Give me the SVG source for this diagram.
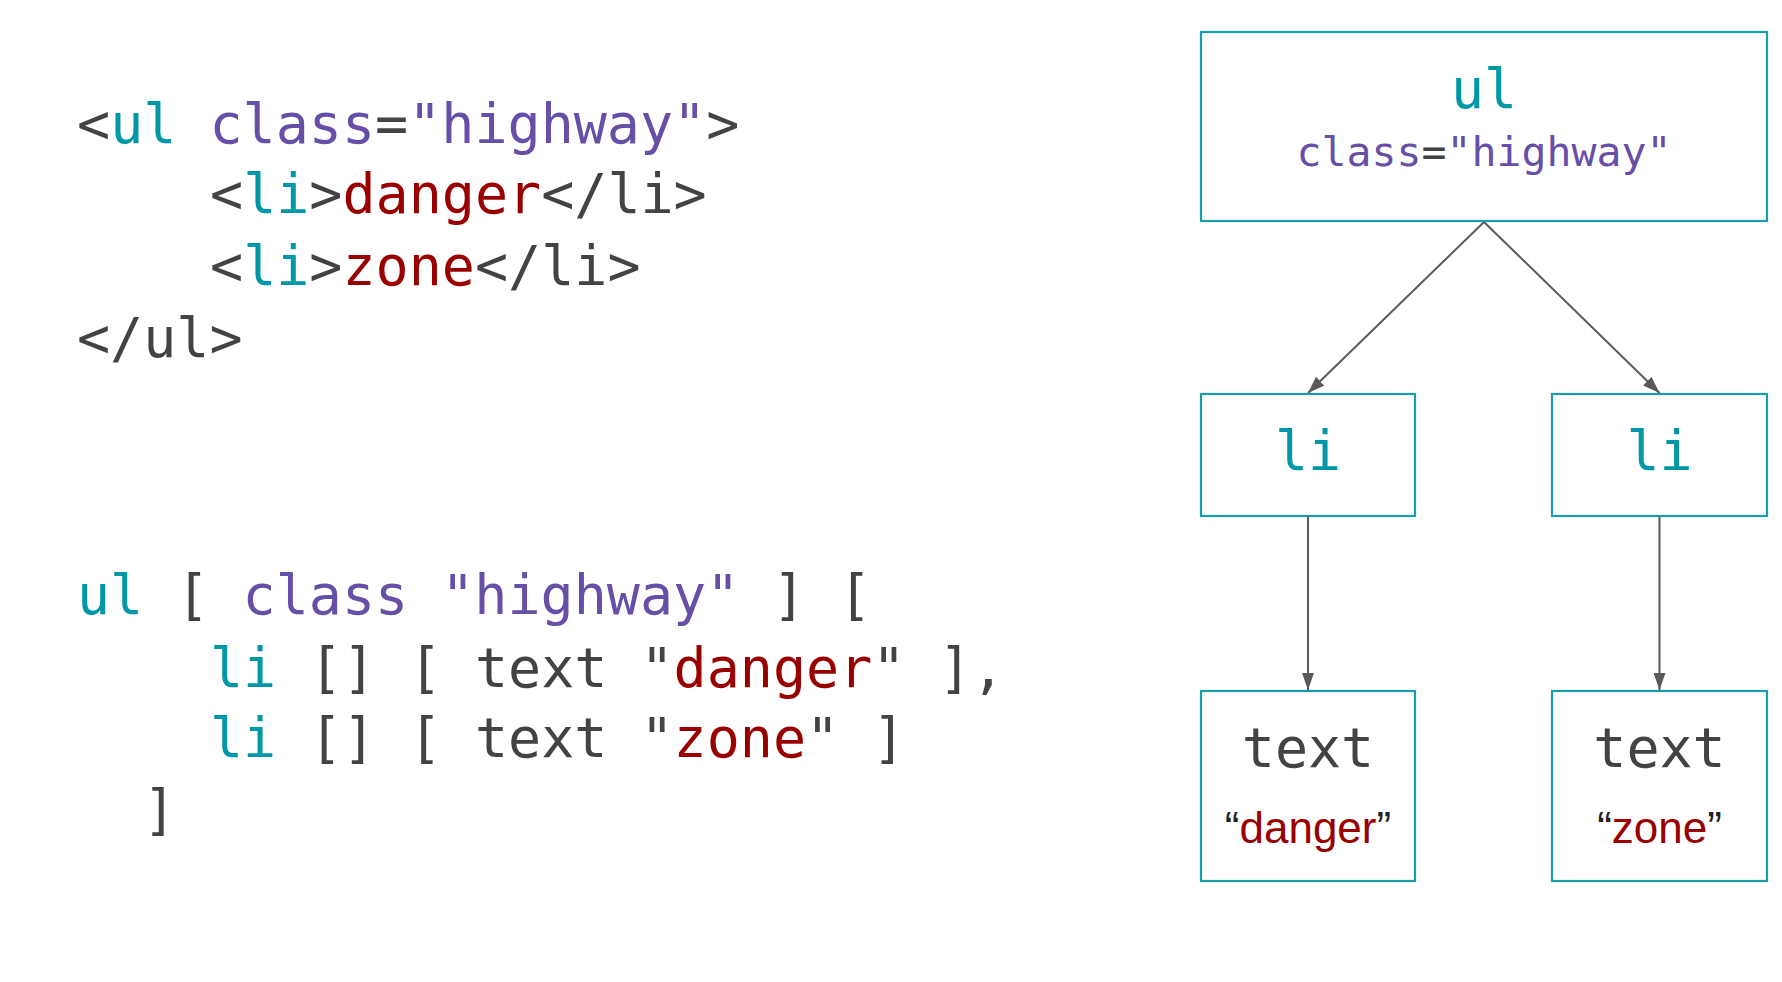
<svg xmlns="http://www.w3.org/2000/svg" width="1782" height="982" viewBox="0 0 1782 982">
<style>
.code{font-family:"DejaVu Sans Mono",monospace;font-size:55px;fill:#434343}
.t{fill:#0097a7}.p{fill:#674ea7}.r{fill:#990000}
.box{fill:#fff;stroke:#1a9cab;stroke-width:2.2}
.mono{font-family:"DejaVu Sans Mono",monospace;text-anchor:middle}
.sans{font-family:"Liberation Sans",Arial,sans-serif;font-size:44px;text-anchor:middle;fill:#990000}
.edge{stroke:#595959;stroke-width:2;fill:none;marker-end:url(#ah)}
</style>
<defs>
<marker id="ah" viewBox="0 0 17 12" refX="17" refY="6" markerWidth="17" markerHeight="12" markerUnits="userSpaceOnUse" orient="auto">
<path d="M0,0 L17,6 L0,12 z" fill="#595959"/>
</marker>
</defs>
<rect width="1782" height="982" fill="#fff"/>
<g id="code-html" xml:space="preserve">
<text class="code" x="77" y="143">&lt;<tspan class="t">ul</tspan> <tspan class="p">class</tspan>=<tspan class="p">"highway"</tspan>&gt;</text>
<text class="code" x="210" y="213">&lt;<tspan class="t">li</tspan>&gt;<tspan class="r">danger</tspan>&lt;/li&gt;</text>
<text class="code" x="210" y="285">&lt;<tspan class="t">li</tspan>&gt;<tspan class="r">zone</tspan>&lt;/li&gt;</text>
<text class="code" x="77" y="357">&lt;/ul&gt;</text>
</g>
<g id="code-elm" xml:space="preserve">
<text class="code" x="77" y="614"><tspan class="t">ul</tspan> [ <tspan class="p">class "highway"</tspan> ] [</text>
<text class="code" x="210" y="687"><tspan class="t">li</tspan> [] [ text "<tspan class="r">danger</tspan>" ],</text>
<text class="code" x="210" y="757"><tspan class="t">li</tspan> [] [ text "<tspan class="r">zone</tspan>" ]</text>
<text class="code" x="143" y="829">]</text>
</g>
<g id="connectors">
<line class="edge" x1="1484" y1="222" x2="1308" y2="393"/>
<line class="edge" x1="1484" y1="222" x2="1659.5" y2="393"/>
<line class="edge" x1="1308" y1="517" x2="1308" y2="690"/>
<line class="edge" x1="1659.5" y1="517" x2="1659.5" y2="690"/>
</g>
<g id="node-ul">
<rect class="box" x="1201" y="32" width="566" height="189"/>
<text class="mono" x="1484" y="108" font-size="55" fill="#0097a7">ul</text>
<text class="mono" x="1484" y="166" font-size="41.5" fill="#674ea7">class<tspan fill="#434343">=</tspan>"highway"</text>
</g>
<g id="node-li1">
<rect class="box" x="1201" y="394" width="214" height="122"/>
<text class="mono" x="1308" y="470" font-size="55" fill="#0097a7">li</text>
</g>
<g id="node-li2">
<rect class="box" x="1552" y="394" width="215" height="122"/>
<text class="mono" x="1659.5" y="470" font-size="55" fill="#0097a7">li</text>
</g>
<g id="node-text1">
<rect class="box" x="1201" y="691" width="214" height="190"/>
<text class="mono" x="1308" y="767" font-size="55" fill="#434343">text</text>
<text class="sans" x="1308" y="843"><tspan fill="#222">“</tspan>danger<tspan fill="#222">”</tspan></text>
</g>
<g id="node-text2">
<rect class="box" x="1552" y="691" width="215" height="190"/>
<text class="mono" x="1659.5" y="767" font-size="55" fill="#434343">text</text>
<text class="sans" x="1659.5" y="843"><tspan fill="#222">“</tspan>zone<tspan fill="#222">”</tspan></text>
</g>
</svg>
